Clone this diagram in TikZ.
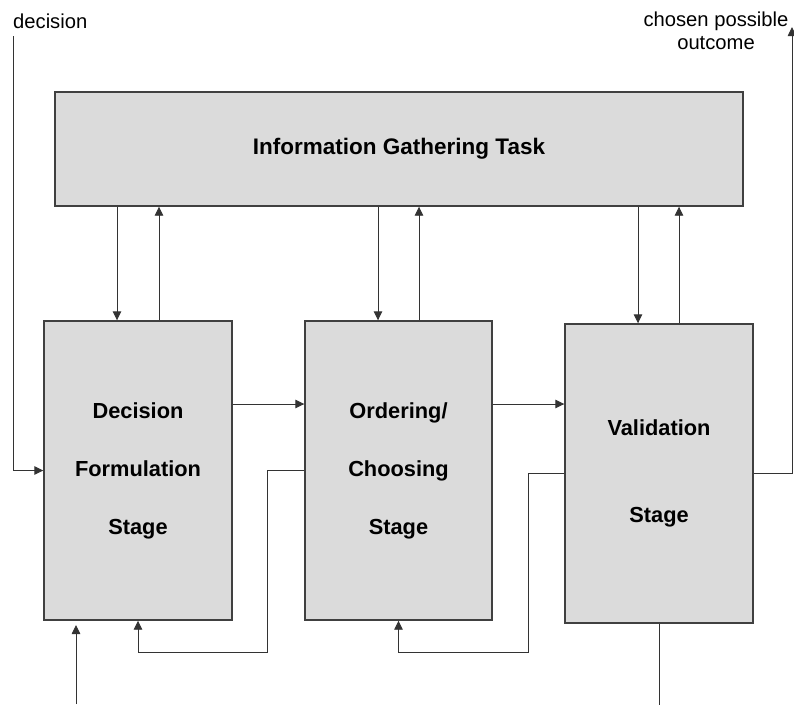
\documentclass[tikz,border=0pt]{standalone}
\usepackage{fontspec}
\setmainfont{Liberation Sans}
\usepackage{tikz}
\usetikzlibrary{arrows.meta,positioning,calc}

\tikzset{
    stagebox/.style={rectangle,
        draw = black!75,
        line width = 1.4pt,
        fill = black!14,
        align = center,
        minimum width = 188,
        minimum height = 299},
    flow/.style={draw = black!80,
        line width = 0.9pt,
        -{Triangle[length=9pt,width=8.5pt]}}
}

\begin{document}
\begin{tikzpicture}[x=1pt,y=-1pt]
\useasboundingbox (0,0) rectangle (794,704);

% task on top
\node[rectangle,
    draw = black!75,
    line width = 1.4pt,
    fill = black!14,
    minimum width = 688,
    minimum height = 114,
    font = \fontsize{22.5}{26}\selectfont\bfseries]
    (info) at (399,149) {Information Gathering Task};

% the three stages
\node[stagebox, font=\fontsize{21.8}{58}\selectfont\bfseries]
    (dec) at (138,470.5) {Decision\\Formulation\\Stage};
\node[stagebox, minimum width=187, font=\fontsize{21.8}{58}\selectfont\bfseries]
    (ord) at (398.5,470.5) {Ordering/\\Choosing\\Stage};
\node[stagebox, font=\fontsize{21.8}{87}\selectfont\bfseries]
    (val) at (659,473.5) {Validation\\Stage};

% outside labels
\node[anchor=base west, inner sep=0, font=\fontsize{20.2}{23}\selectfont]
    (declab) at (13,28) {decision};
\node[align=center, inner sep=0, font=\fontsize{20.2}{23}\selectfont]
    (outlab) at (716,31) {chosen possible\\outcome};

\coordinate (decin) at (13,36);
\coordinate (outtip) at (792,27);
\coordinate (decbot) at (76,704);
\coordinate (row) at (0,404);

% in and out
\draw[flow] (decin) |- (dec.west);
\draw[flow] (val.east) -| (outtip);
\draw[flow] (decbot) -- ++(0,-79);
\draw[flow, -] (val.south) -- ++(0,81);

% task <-> stages
\draw[flow] ([xshift=-21pt]dec.north |- info.south) -- ([xshift=-21pt]dec.north);
\draw[flow] ([xshift=21pt]dec.north) -- ([xshift=21pt]dec.north |- info.south);
\draw[flow] ([xshift=-20.5pt]ord.north |- info.south) -- ([xshift=-20.5pt]ord.north);
\draw[flow] ([xshift=20.5pt]ord.north) -- ([xshift=20.5pt]ord.north |- info.south);
\draw[flow] ([xshift=-21pt]val.north |- info.south) -- ([xshift=-21pt]val.north);
\draw[flow] ([xshift=20pt]val.north) -- ([xshift=20pt]val.north |- info.south);

% stage to stage
\draw[flow] (dec.east |- row) -- (ord.west |- row);
\draw[flow] (ord.east |- row) -- (val.west |- row);

% going back
\draw[flow] (ord.west) -- ++(-37,0) |- ([yshift=-32pt]dec.south) -- (dec.south);
\draw[flow] (val.west) -- ++(-36,0) |- ([yshift=-32pt]ord.south) -- (ord.south);

\end{tikzpicture}
\end{document}
